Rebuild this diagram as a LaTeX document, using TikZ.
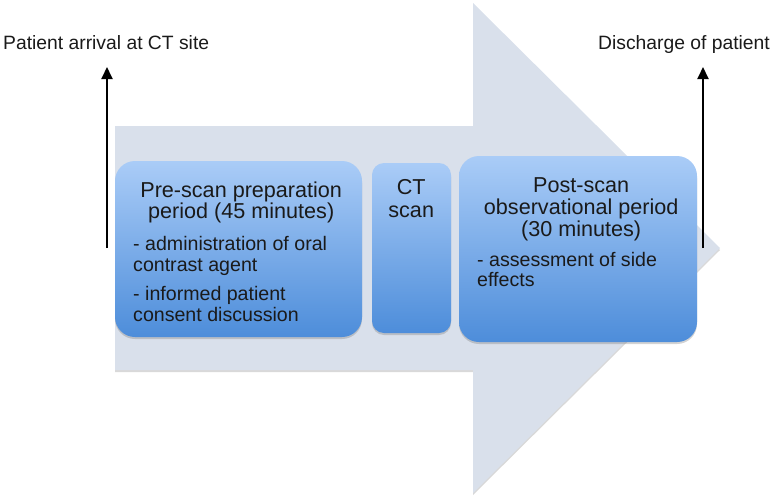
\documentclass[tikz,border=0pt]{standalone}
\usepackage{fontspec}
\setmainfont{Liberation Sans}
\usetikzlibrary{arrows.meta,shadows}
\definecolor{arrowfill}{HTML}{D9E0EB}
\definecolor{boxtop}{HTML}{AACCF7}
\definecolor{boxbot}{HTML}{4D8DDA}
\definecolor{txt}{HTML}{1A1A1A}
\tikzset{
  stage/.style={draw=none, top color=boxtop, bottom color=boxbot, inner sep=0pt,
    drop shadow={opacity=0.35, shadow xshift=0pt, shadow yshift=-2pt}},
  label/.style={inner sep=0pt, text=txt, font=\fontsize{19.3}{21}\selectfont},
  inbox/.style={inner sep=0pt, text=txt, anchor=base west},
  marker/.style={line width=2pt, draw=black, -{Triangle[width=11pt,length=12pt]}}
}
\newcommand{\ttl}{\fontsize{21.6}{21}\selectfont}
\newcommand{\bdy}{\fontsize{19.6}{21}\selectfont}
\begin{document}
\begin{tikzpicture}[x=1pt,y=-1pt]
\useasboundingbox (0,0) rectangle (777,501);
% big arrow with faint shadow
\fill[black!25, opacity=0.6] (115,128) -- (473,128) -- (473,5) -- (720,250) -- (473,495) -- (473,372) -- (115,372) -- cycle;
\fill[arrowfill] (115,126) -- (473,126) -- (473,3) -- (720,248) -- (473,493) -- (473,370) -- (115,370) -- cycle;
% stage boxes
\node[stage, rounded corners=20pt, minimum width=247pt, minimum height=176pt] (pre) at (238.5,249) {};
\node[stage, rounded corners=12pt, minimum width=79pt, minimum height=170pt] (ct) at (411.5,248) {};
\node[stage, rounded corners=20pt, minimum width=238pt, minimum height=186pt] (post) at (578,249) {};
% texts in boxes
\node[inbox] (pretext) at (133,197) {\parbox[t]{216pt}{%
  {\ttl\centering Pre-scan preparation\\period (45 minutes)\par}\vspace{11pt}%
  {\bdy\raggedright - administration of oral\\contrast agent\par}\vspace{8pt}%
  {\bdy\raggedright - informed patient\\consent discussion\par}}};
\node[inbox] (cttext) at (376,194) {\parbox[t]{70pt}{%
  {\ttl\baselineskip=23pt\centering CT\\scan\par}}};
\node[inbox] (posttext) at (477,192) {\parbox[t]{208pt}{%
  {\ttl\baselineskip=22pt\centering Post-scan\\observational period\\(30 minutes)\par}\vspace{10pt}%
  {\bdy\baselineskip=20pt\raggedright - assessment of side\\effects\par}}};
% top labels
\node[label, anchor=base west] (arr) at (3,49) {Patient arrival at CT site};
\node[label, anchor=base east] (dis) at (770,49) {Discharge of patient};
\coordinate (a0) at (107,248);
\coordinate (a1) at (107,67);
\coordinate (d0) at (703,248);
\coordinate (d1) at (703,67);
\draw[marker] (a0) -- (a1);
\draw[marker] (d0) -- (d1);
\end{tikzpicture}
\end{document}
